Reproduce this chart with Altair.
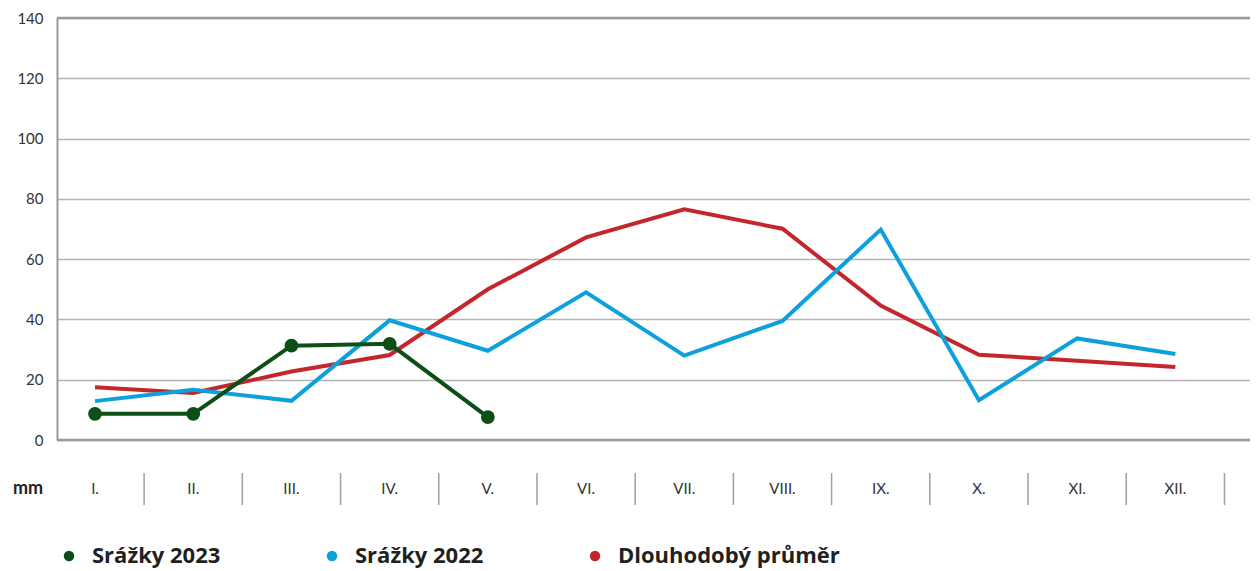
import altair as alt
import pandas as pd

months = ["I.", "II.", "III.", "IV.", "V.", "VI.", "VII.", "VIII.", "IX.", "X.", "XI.", "XII."]
srazky_2023 = [8.7, 8.7, 31.3, 31.9, 7.6]
srazky_2022 = [12.9, 16.7, 13.0, 39.7, 29.6, 49.0, 28.0, 39.5, 69.8, 13.2, 33.7, 28.5]
prumer = [17.5, 15.6, 22.7, 28.2, 50.0, 67.2, 76.5, 70.1, 44.6, 28.3, 26.3, 24.2]
series_names = ["Srážky 2023", "Srážky 2022", "Dlouhodobý průměr"]
colors = ["#0b4f17", "#0ca0dc", "#c4262e"]
y_ticks = [0, 20, 40, 60, 80, 100, 120, 140]

FONT = "Lato"

df23 = pd.DataFrame({"idx": list(range(len(srazky_2023))), "v": srazky_2023, "series": series_names[0]})
df22 = pd.DataFrame({"idx": list(range(len(srazky_2022))), "v": srazky_2022, "series": series_names[1]})
dfp = pd.DataFrame({"idx": list(range(len(prumer))), "v": prumer, "series": series_names[2]})
dfm = pd.DataFrame({"idx": list(range(len(months))), "m": months})
dfsep = pd.DataFrame({"s": [i + 0.5 for i in range(len(months))]})
dfb = pd.DataFrame({"v": [0, 140]})

xs = alt.Scale(domain=[-0.387, 11.76], nice=False, zero=False)
ys = alt.Scale(domain=[0, 140], nice=False)

yaxis = alt.Axis(values=y_ticks, title=None, ticks=False, labelPadding=14,
                 labelFont=FONT, labelFontSize=15, labelColor="#333333",
                 domainColor="#9a9a9a", domainWidth=2,
                 gridColor="#b5b5b5", gridWidth=1.5)
base_y = alt.Y("v:Q", scale=ys, axis=yaxis)

border = alt.Chart(dfb).mark_rule(color="#9a9a9a", strokeWidth=2.5).encode(y=base_y)

seps = alt.Chart(dfsep).mark_rule(color="#a0a0a0", strokeWidth=1.5).encode(
    x=alt.X("s:Q", scale=xs, axis=None), y=alt.value(455), y2=alt.value(487))

labels = alt.Chart(dfm).mark_text(font=FONT, fontSize=15, color="#333333", baseline="middle").encode(
    x=alt.X("idx:Q", scale=xs, axis=None), y=alt.value(471), text="m:N")

mm = alt.Chart(pd.DataFrame({"t": ["mm"]})).mark_text(
    font=FONT, fontSize=18, fontWeight="bold", color="#222222", baseline="middle").encode(
    x=alt.value(-29), y=alt.value(471), text="t:N")

def line(df, col):
    return alt.Chart(df).mark_line(strokeWidth=4, color=col).encode(
        x=alt.X("idx:Q", scale=xs, axis=None), y=base_y)

pts = alt.Chart(df23).mark_point(filled=True, size=190, opacity=1, strokeWidth=0).encode(
    x=alt.X("idx:Q", scale=xs, axis=None), y=base_y,
    fill=alt.Fill("series:N", scale=alt.Scale(domain=series_names, range=colors),
                  legend=alt.Legend(title=None, orient="none", legendX=1, legendY=527,
                                    direction="horizontal", symbolType="circle", symbolSize=110,
                                    symbolStrokeWidth=0, symbolOpacity=1,
                                    labelFont="Open Sans", labelFontWeight="bold", labelFontSize=22,
                                    labelColor="#231f20", labelOffset=12, columnPadding=100,
                                    labelLimit=400)))

chart = alt.layer(
    border, seps, labels, mm,
    line(dfp, colors[2]),
    line(df22, colors[1]),
    line(df23, colors[0]),
    pts,
).properties(
    width=1193, height=422,
    autosize=alt.AutoSizeParams(type="none"),
    padding={"left": 49, "top": 10, "right": 0, "bottom": 135},
).configure_view(stroke=None)

chart.save("out.html", embed_options={"renderer": "svg", "actions": False})
